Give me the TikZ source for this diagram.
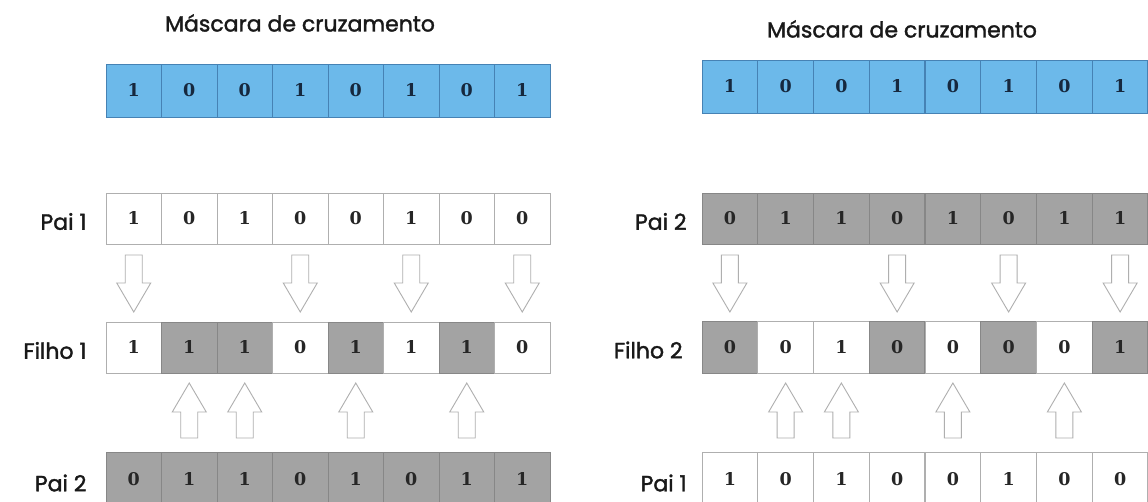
\documentclass[tikz,border=0pt]{standalone}
\usepackage{fontspec}
\setmainfont{Poppins}[AutoFakeBold=1.6]
\newfontfamily\digitfont{DejaVu Serif}
\usetikzlibrary{calc}

\definecolor{maskblue}{RGB}{108,185,234}
\definecolor{maskedge}{RGB}{70,130,180}
\definecolor{masktext}{RGB}{22,40,62}
\definecolor{cellgray}{RGB}{163,163,163}
\definecolor{grayedge}{RGB}{135,135,135}
\definecolor{lineedge}{RGB}{175,175,175}
\definecolor{arrowedge}{RGB}{175,175,175}
\definecolor{labeltext}{RGB}{25,25,25}

\tikzset{
  cell/.style={draw, minimum width=55.5pt, minimum height=52pt, inner sep=0pt, outer sep=0pt,
    line width=0.8pt, font=\digitfont\bfseries\fontsize{17.5}{17.5}\selectfont},
  maskcell/.style={cell, fill=maskblue, draw=maskedge, text=masktext},
  graycell/.style={cell, fill=cellgray, draw=grayedge, text=black!85},
  whitecell/.style={cell, fill=white, draw=lineedge, text=black!85},
  blockarrow/.style={draw=arrowedge, fill=white, line width=0.9pt, line join=miter},
  rowlabel/.style={anchor=east, text=labeltext, font=\bfseries\fontsize{22}{22}\selectfont},
  masktitle/.style={text=labeltext, font=\bfseries\fontsize{22}{22}\selectfont},
  downarr/.pic={\draw[blockarrow] (-8.5,0) -- (8.5,0) -- (8.5,28) -- (17,28) -- (0,57)
      -- (-17,28) -- (-8.5,28) -- cycle;},
  uparr/.pic={\draw[blockarrow] (0,0) -- (17,29) -- (8.5,29) -- (8.5,55) -- (-8.5,55)
      -- (-8.5,29) -- (-17,29) -- cycle;}
}

\begin{document}
\begin{tikzpicture}[x=1pt,y=-1pt]
\useasboundingbox (0,0) rectangle (1148,502);
\fill[white] (0,0) rectangle (1148,502);

% ---------- left panel: Filho 1 ----------
\node[masktitle] (Ltitle) at (300,23) {Máscara de cruzamento};
\foreach \v [count=\i] in {1,0,0,1,0,1,0,1}
  \node[maskcell, minimum height=53pt] (Lm\i) at ({106+55.5*(\i-0.5)},90.5) {\v};

\foreach \v [count=\i] in {1,0,1,0,0,1,0,0}
  \node[whitecell, minimum height=51pt] (La\i) at ({106+55.5*(\i-0.5)},218.5) {\v};
\node[rowlabel] (LaLab) at ($(La1.west)+(-16,3)$) {Pai 1};

\foreach \v/\s [count=\i] in {1/whitecell,1/graycell,1/graycell,0/whitecell,1/graycell,1/whitecell,1/graycell,0/whitecell}
  \node[\s, minimum height=51pt] (Lf\i) at ({106+55.5*(\i-0.5)},347.5) {\v};
\node[rowlabel] (LfLab) at ($(Lf1.west)+(-16,3)$) {Filho 1};

\foreach \v [count=\i] in {0,1,1,0,1,0,1,1}
  \node[graycell, minimum height=54pt] (Lb\i) at ({106+55.5*(\i-0.5)},479) {\v};
\node[rowlabel] (LbLab) at ($(Lb1.west)+(-16,4)$) {Pai 2};

\foreach \i in {1,4,6,8}
  \pic at ($(La\i.south)+(0,11)$) {downarr};
\foreach \i in {2,3,5,7}
  \pic at ($(Lf\i.south)+(0,10)$) {uparr};

% ---------- right panel: Filho 2 ----------
\node[masktitle] (Rtitle) at (902,29) {Máscara de cruzamento};
\foreach \v [count=\i] in {1,0,0,1,0,1,0,1}
  \node[maskcell, minimum height=53pt] (Rm\i) at ({702+55.75*(\i-0.5)},86.5) {\v};

\foreach \v [count=\i] in {0,1,1,0,1,0,1,1}
  \node[graycell, minimum height=51pt] (Ra\i) at ({702+55.75*(\i-0.5)},218.5) {\v};
\node[rowlabel] (RaLab) at ($(Ra1.west)+(-12,3)$) {Pai 2};

\foreach \v/\s [count=\i] in {0/graycell,0/whitecell,1/whitecell,0/graycell,0/whitecell,0/graycell,0/whitecell,1/graycell}
  \node[\s, minimum height=52pt] (Rf\i) at ({702+55.75*(\i-0.5)},347) {\v};
\node[rowlabel] (RfLab) at ($(Rf1.west)+(-16,3)$) {Filho 2};

\foreach \v [count=\i] in {1,0,1,0,0,1,0,0}
  \node[whitecell, minimum height=54pt] (Rb\i) at ({702+55.75*(\i-0.5)},479) {\v};
\node[rowlabel] (RbLab) at ($(Rb1.west)+(-12,4)$) {Pai 1};

\foreach \i in {1,4,6,8}
  \pic at ($(Ra\i.south)+(0,11)$) {downarr};
\foreach \i in {2,3,5,7}
  \pic at ($(Rf\i.south)+(0,10)$) {uparr};
\end{tikzpicture}
\end{document}
